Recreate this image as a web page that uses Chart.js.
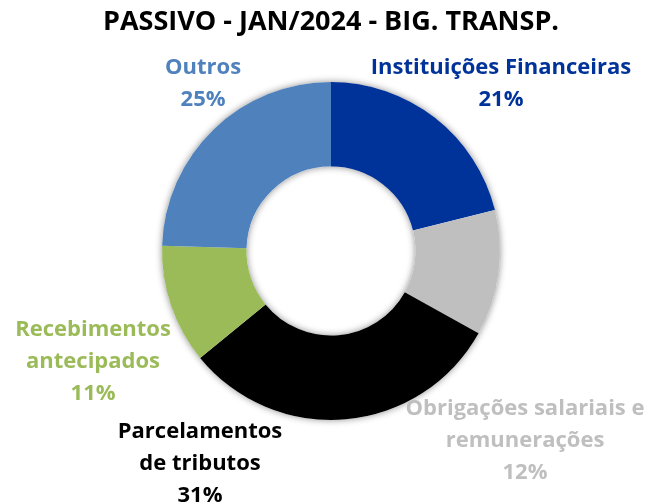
<!DOCTYPE html>
<html>
<head>
<meta charset="utf-8">
<script src="https://cdn.jsdelivr.net/npm/chart.js@4"></script>
<style>
  html, body { margin: 0; padding: 0; background: #fff; }
  #wrap { width: 659px; height: 502px; }
</style>
</head>
<body>
<div id="wrap"><canvas id="myChart" width="659" height="502"></canvas></div>
<script>
// dados do gráfico
const categories = [
  ["Instituições Financeiras"],
  ["Obrigações salariais e", "remunerações"],
  ["Parcelamentos", "de tributos"],
  ["Recebimentos", "antecipados"],
  ["Outros"]
];
const values = [21.1, 12.0, 31.0, 11.4, 24.5];
const colors = ["#003399", "#BFBFBF", "#000000", "#9BBB59", "#4F81BD"];
const labelColors = ["#003399", "#BFBFBF", "#000000", "#9BBB59", "#4F81BD"];

// rótulos fora do anel (relativos ao centro, em raios externos)
const labelPlugin = {
  id: "outerLabels",
  beforeDatasetsDraw(chart) {
    const arc = chart.getDatasetMeta(0).data[0];
    const ctx = chart.ctx;
    ctx.save();
    ctx.beginPath();
    ctx.arc(arc.x, arc.y, arc.outerRadius, 0, Math.PI * 2);
    ctx.arc(arc.x, arc.y, arc.innerRadius, 0, Math.PI * 2, true);
    ctx.shadowColor = "rgba(0,0,0,0.45)";
    ctx.shadowBlur = 7;
    ctx.fillStyle = "#fff";
    ctx.fill("evenodd");
    ctx.restore();
  },
  afterDatasetsDraw(chart, args, opts) {
    const meta = chart.getDatasetMeta(0);
    const arc = meta.data[0];
    const R = arc.outerRadius;
    const ctx = chart.ctx;
    const data = chart.data.datasets[0].data;
    const total = data.reduce((a, b) => a + b, 0);
    ctx.save();
    ctx.font = opts.font;
    ctx.textAlign = "center";
    ctx.textBaseline = "middle";
    chart.data.labels.forEach((lab, i) => {
      const lines = [...lab, Math.round(data[i] / total * 100) + "%"];
      const off = opts.offsets[i];
      const cx = arc.x + off[0] * R;
      const cy = arc.y + off[1] * R;
      const top = cy - (lines.length - 1) * opts.lineHeight / 2;
      ctx.fillStyle = labelColors[i];
      lines.forEach((t, k) => ctx.fillText(t, cx, top + k * opts.lineHeight));
    });
    ctx.restore();
  }
};

const ctx = document.getElementById("myChart").getContext("2d");
new Chart(ctx, {
  type: "doughnut",
  data: {
    labels: categories,
    datasets: [{
      data: values,
      backgroundColor: colors,
      borderWidth: 0
    }]
  },
  options: {
    responsive: false,
    animation: false,
    cutout: "50%",
    layout: { padding: { left: 3, bottom: 82 } },
    plugins: {
      legend: { display: false },
      tooltip: { enabled: false },
      title: {
        display: true,
        text: "PASSIVO - JAN/2024 - BIG. TRANSP.",
        color: "#000",
        font: { family: "Open Sans", size: 27, weight: "bold", lineHeight: 1.2 },
        padding: { top: 6, bottom: 43.6 }
      },
      outerLabels: {
        font: "bold 22px 'Open Sans'",
        lineHeight: 32,
        offsets: [
          [1.006, -0.991],
          [1.148, 1.121],
          [-0.775, 1.257],
          [-1.408, 0.654],
          [-0.757, -0.988]
        ]
      }
    }
  },
  plugins: [labelPlugin]
});
</script>
</body>
</html>
